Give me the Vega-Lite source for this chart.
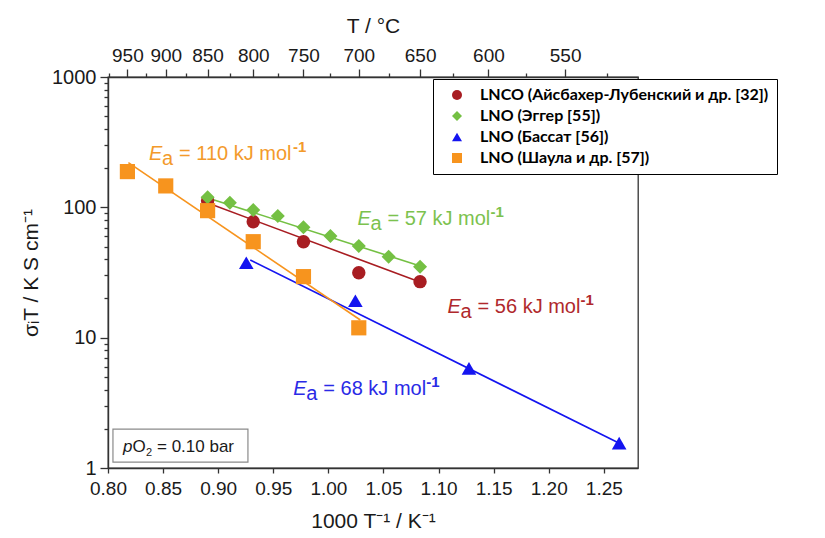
{
  "$schema": "https://vega.github.io/schema/vega-lite/v6.json",
  "autosize": {"type": "none"},
  "width": 530,
  "height": 391,
  "padding": {"left": 108, "top": 77, "right": 187, "bottom": 70},
  "background": "white",
  "config": {
    "view": {"stroke": "#333333", "strokeWidth": 1.3},
    "font": "Liberation Sans",
    "axis": {
      "domainColor": "#333333",
      "domainWidth": 1.4,
      "tickColor": "#333333",
      "tickWidth": 1.3,
      "labelColor": "#1a1a1a",
      "titleColor": "#1a1a1a",
      "labelFont": "Liberation Sans",
      "titleFont": "Liberation Sans",
      "titleFontWeight": "normal",
      "grid": false,
      "labelFlush": false,
      "labelOverlap": false
    },
    "legend": {
      "strokeColor": "black",
      "fillColor": "white",
      "padding": 8,
      "symbolOffset": 8,
      "labelFont": "Lato",
      "labelFontWeight": "bold",
      "labelFontSize": 16,
      "labelColor": "black",
      "labelOffset": 15,
      "labelLimit": 400,
      "rowPadding": 5
    }
  },
  "datasets": {
    "points": [
      {"series": "LNCO (Айсбахер-Лубенский и др. [32])", "x": 0.8904, "y": 112.5},
      {"series": "LNCO (Айсбахер-Лубенский и др. [32])", "x": 0.9318, "y": 77.6},
      {"series": "LNCO (Айсбахер-Лубенский и др. [32])", "x": 0.9774, "y": 54.5},
      {"series": "LNCO (Айсбахер-Лубенский и др. [32])", "x": 1.0276, "y": 31.5},
      {"series": "LNCO (Айсбахер-Лубенский и др. [32])", "x": 1.0832, "y": 26.9},
      {"series": "LNO (Эггер [55])", "x": 0.8904, "y": 119.4},
      {"series": "LNO (Эггер [55])", "x": 0.9106, "y": 108.6},
      {"series": "LNO (Эггер [55])", "x": 0.9318, "y": 95.4},
      {"series": "LNO (Эггер [55])", "x": 0.9541, "y": 85.8},
      {"series": "LNO (Эггер [55])", "x": 0.9774, "y": 70.3},
      {"series": "LNO (Эггер [55])", "x": 1.0019, "y": 60.3},
      {"series": "LNO (Эггер [55])", "x": 1.0276, "y": 50.5},
      {"series": "LNO (Эггер [55])", "x": 1.0547, "y": 41.8},
      {"series": "LNO (Эггер [55])", "x": 1.0832, "y": 35.0},
      {"series": "LNO (Бассат [56])", "x": 0.9255, "y": 37.6},
      {"series": "LNO (Бассат [56])", "x": 1.0245, "y": 19.2},
      {"series": "LNO (Бассат [56])", "x": 1.1276, "y": 5.82},
      {"series": "LNO (Бассат [56])", "x": 1.2639, "y": 1.55},
      {"series": "LNO (Шаула и др. [57])", "x": 0.8176, "y": 188},
      {"series": "LNO (Шаула и др. [57])", "x": 0.8524, "y": 146},
      {"series": "LNO (Шаула и др. [57])", "x": 0.8904, "y": 94.3},
      {"series": "LNO (Шаула и др. [57])", "x": 0.9318, "y": 54.5},
      {"series": "LNO (Шаула и др. [57])", "x": 0.9774, "y": 29.4},
      {"series": "LNO (Шаула и др. [57])", "x": 1.0276, "y": 11.9}
    ],
    "fits": [
      {"series": "LNCO (Айсбахер-Лубенский и др. [32])", "x": 0.8912, "y": 107.4},
      {"series": "LNCO (Айсбахер-Лубенский и др. [32])", "x": 1.0843, "y": 26.5},
      {"series": "LNO (Эггер [55])", "x": 0.8893, "y": 119},
      {"series": "LNO (Эггер [55])", "x": 1.0833, "y": 35.5},
      {"series": "LNO (Бассат [56])", "x": 0.9291, "y": 39.4},
      {"series": "LNO (Бассат [56])", "x": 1.2636, "y": 1.555},
      {"series": "LNO (Шаула и др. [57])", "x": 0.8185, "y": 220},
      {"series": "LNO (Шаула и др. [57])", "x": 1.029, "y": 13.66}
    ],
    "one": [{}]
  },
  "resolve": {
    "axis": {"x": "independent", "y": "independent"},
    "legend": {"color": "independent", "shape": "independent"}
  },
  "layer": [
    {
      "description": "Arrhenius fit lines; this layer also carries the top temperature axis and the left axis",
      "data": {"name": "fits"},
      "mark": {"type": "line", "strokeWidth": 1.6},
      "encoding": {
        "x": {
          "field": "x", "type": "quantitative",
          "scale": {"domain": [0.8, 1.281], "nice": false, "zero": false},
          "axis": {
            "orient": "top",
            "title": "T / °C",
            "titleFontSize": 21,
            "titlePadding": 10,
            "labelFontSize": 19,
            "labelPadding": 4,
            "values": [0.801186, 0.817561, 0.83462, 0.852406, 0.870966, 0.890353, 0.910622, 0.931836, 0.954062, 0.977374, 1.001853, 1.027591, 1.054686, 1.083248, 1.1134, 1.145279, 1.179037, 1.214845, 1.252897],
            "labelExpr": "round(1000 / datum.value - 273.15) % 50 == 0 ? format(round(1000 / datum.value - 273.15), 'd') : ''",
            "tickSize": {"condition": {"test": "round(1000 / datum.value - 273.15) % 50 == 0", "value": 8}, "value": 4}
          }
        },
        "y": {
          "field": "y", "type": "quantitative",
          "scale": {"type": "log", "domain": [1, 1000], "nice": false},
          "axis": {
            "title": "σᵢT / K S cm⁻¹",
            "titleFontSize": 21,
            "titlePadding": 10,
            "labelFontSize": 20,
            "labelPadding": 4,
            "values": [1, 2, 3, 4, 5, 6, 7, 8, 9, 10, 20, 30, 40, 50, 60, 70, 80, 90, 100, 200, 300, 400, 500, 600, 700, 800, 900, 1000],
            "format": "d",
            "labelExpr": "indexof([1, 10, 100, 1000], datum.value) >= 0 ? datum.label : ''",
            "tickSize": {"condition": {"test": "indexof([1, 10, 100, 1000], datum.value) >= 0", "value": 8}, "value": 4}
          }
        },
        "color": {
          "field": "series", "type": "nominal",
          "scale": {
            "domain": ["LNCO (Айсбахер-Лубенский и др. [32])", "LNO (Эггер [55])", "LNO (Бассат [56])", "LNO (Шаула и др. [57])"],
            "range": ["#a81d22", "#74c043", "#1414f0", "#f7941e"]
          },
          "legend": null
        }
      }
    },
    {
      "description": "Measured points; this layer carries the bottom axis and the legend",
      "data": {"name": "points"},
      "mark": {"type": "point", "filled": true, "opacity": 1},
      "encoding": {
        "x": {
          "field": "x", "type": "quantitative",
          "scale": {"domain": [0.8, 1.281], "nice": false, "zero": false},
          "axis": {
            "orient": "bottom",
            "title": "1000 T⁻¹ / K⁻¹",
            "titleFontSize": 21,
            "titlePadding": 12,
            "labelFontSize": 19,
            "labelPadding": 6,
            "tickSize": 5,
            "values": [0.8, 0.85, 0.9, 0.95, 1.0, 1.05, 1.1, 1.15, 1.2, 1.25],
            "format": ".2f"
          }
        },
        "y": {
          "field": "y", "type": "quantitative",
          "scale": {"type": "log", "domain": [1, 1000], "nice": false},
          "axis": null
        },
        "color": {
          "field": "series", "type": "nominal",
          "scale": {
            "domain": ["LNCO (Айсбахер-Лубенский и др. [32])", "LNO (Эггер [55])", "LNO (Бассат [56])", "LNO (Шаула и др. [57])"],
            "range": ["#a81d22", "#74c043", "#1414f0", "#f7941e"]
          },
          "legend": {"title": null, "orient": "none", "legendX": 325, "legendY": 2}
        },
        "shape": {
          "field": "series", "type": "nominal",
          "scale": {
            "domain": ["LNCO (Айсбахер-Лубенский и др. [32])", "LNO (Эггер [55])", "LNO (Бассат [56])", "LNO (Шаула и др. [57])"],
            "range": ["circle", "diamond", "triangle-up", "square"]
          },
          "legend": {"title": null, "orient": "none", "legendX": 325, "legendY": 2}
        },
        "size": {
          "field": "series", "type": "nominal",
          "scale": {
            "domain": ["LNCO (Айсбахер-Лубенский и др. [32])", "LNO (Эггер [55])", "LNO (Бассат [56])", "LNO (Шаула и др. [57])"],
            "range": [180, 230, 280, 170]
          },
          "legend": null
        }
      }
    },
    {
      "description": "Activation energy label, Shaula series",
      "data": {"name": "one"},
      "encoding": {
        "x": {"datum": 0.8373, "type": "quantitative", "scale": {"domain": [0.8, 1.281], "nice": false, "zero": false}, "axis": null},
        "y": {"datum": 231, "type": "quantitative", "scale": {"type": "log", "domain": [1, 1000], "nice": false}, "axis": null}
      },
      "layer": [
        {"mark": {"type": "text", "text": "E", "fontStyle": "italic", "fontSize": 20, "align": "left", "baseline": "alphabetic", "color": "#f39a2b"}},
        {"mark": {"type": "text", "text": "a", "fontSize": 20, "align": "left", "baseline": "alphabetic", "dx": 13, "dy": 5, "color": "#f39a2b"}},
        {"mark": {"type": "text", "text": "= 110 kJ mol", "fontSize": 20, "align": "left", "baseline": "alphabetic", "dx": 30, "color": "#f39a2b"}},
        {"mark": {"type": "text", "text": "-1", "fontSize": 15, "fontWeight": "bold", "align": "left", "baseline": "alphabetic", "dx": 144, "dy": -8, "color": "#f39a2b"}}
      ]
    },
    {
      "description": "Activation energy label, Egger series",
      "data": {"name": "one"},
      "encoding": {
        "x": {"datum": 1.0264, "type": "quantitative", "scale": {"domain": [0.8, 1.281], "nice": false, "zero": false}, "axis": null},
        "y": {"datum": 73.2, "type": "quantitative", "scale": {"type": "log", "domain": [1, 1000], "nice": false}, "axis": null}
      },
      "layer": [
        {"mark": {"type": "text", "text": "E", "fontStyle": "italic", "fontSize": 20, "align": "left", "baseline": "alphabetic", "color": "#7cc24e"}},
        {"mark": {"type": "text", "text": "a", "fontSize": 20, "align": "left", "baseline": "alphabetic", "dx": 13, "dy": 5, "color": "#7cc24e"}},
        {"mark": {"type": "text", "text": "= 57 kJ mol", "fontSize": 20, "align": "left", "baseline": "alphabetic", "dx": 30, "color": "#7cc24e"}},
        {"mark": {"type": "text", "text": "-1", "fontSize": 15, "fontWeight": "bold", "align": "left", "baseline": "alphabetic", "dx": 133, "dy": -8, "color": "#7cc24e"}}
      ]
    },
    {
      "description": "Activation energy label, LNCO series",
      "data": {"name": "one"},
      "encoding": {
        "x": {"datum": 1.1082, "type": "quantitative", "scale": {"domain": [0.8, 1.281], "nice": false, "zero": false}, "axis": null},
        "y": {"datum": 15.5, "type": "quantitative", "scale": {"type": "log", "domain": [1, 1000], "nice": false}, "axis": null}
      },
      "layer": [
        {"mark": {"type": "text", "text": "E", "fontStyle": "italic", "fontSize": 20, "align": "left", "baseline": "alphabetic", "color": "#b0282c"}},
        {"mark": {"type": "text", "text": "a", "fontSize": 20, "align": "left", "baseline": "alphabetic", "dx": 13, "dy": 5, "color": "#b0282c"}},
        {"mark": {"type": "text", "text": "= 56 kJ mol", "fontSize": 20, "align": "left", "baseline": "alphabetic", "dx": 30, "color": "#b0282c"}},
        {"mark": {"type": "text", "text": "-1", "fontSize": 15, "fontWeight": "bold", "align": "left", "baseline": "alphabetic", "dx": 133, "dy": -8, "color": "#b0282c"}}
      ]
    },
    {
      "description": "Activation energy label, Bassat series",
      "data": {"name": "one"},
      "encoding": {
        "x": {"datum": 0.9682, "type": "quantitative", "scale": {"domain": [0.8, 1.281], "nice": false, "zero": false}, "axis": null},
        "y": {"datum": 3.63, "type": "quantitative", "scale": {"type": "log", "domain": [1, 1000], "nice": false}, "axis": null}
      },
      "layer": [
        {"mark": {"type": "text", "text": "E", "fontStyle": "italic", "fontSize": 20, "align": "left", "baseline": "alphabetic", "color": "#2a2ae6"}},
        {"mark": {"type": "text", "text": "a", "fontSize": 20, "align": "left", "baseline": "alphabetic", "dx": 13, "dy": 5, "color": "#2a2ae6"}},
        {"mark": {"type": "text", "text": "= 68 kJ mol", "fontSize": 20, "align": "left", "baseline": "alphabetic", "dx": 30, "color": "#2a2ae6"}},
        {"mark": {"type": "text", "text": "-1", "fontSize": 15, "fontWeight": "bold", "align": "left", "baseline": "alphabetic", "dx": 133, "dy": -8, "color": "#2a2ae6"}}
      ]
    },
    {
      "description": "Oxygen partial pressure note: frame",
      "data": {"name": "one"},
      "mark": {"type": "rect", "fill": "white", "stroke": "#8a8a8a", "strokeWidth": 1.2},
      "encoding": {
        "x": {"datum": 0.8045, "type": "quantitative", "scale": {"domain": [0.8, 1.281], "nice": false, "zero": false}, "axis": null},
        "x2": {"datum": 0.927},
        "y": {"datum": 1.99, "type": "quantitative", "scale": {"type": "log", "domain": [1, 1000], "nice": false}, "axis": null},
        "y2": {"datum": 1.11}
      }
    },
    {
      "description": "Oxygen partial pressure note: text",
      "data": {"name": "one"},
      "encoding": {
        "x": {"datum": 0.8136, "type": "quantitative", "scale": {"domain": [0.8, 1.281], "nice": false, "zero": false}, "axis": null},
        "y": {"datum": 1.33, "type": "quantitative", "scale": {"type": "log", "domain": [1, 1000], "nice": false}, "axis": null}
      },
      "layer": [
        {"mark": {"type": "text", "text": "p", "fontStyle": "italic", "fontSize": 17, "align": "left", "baseline": "alphabetic", "color": "#1a1a1a"}},
        {"mark": {"type": "text", "text": "O", "fontSize": 17, "align": "left", "baseline": "alphabetic", "dx": 9.5, "color": "#1a1a1a"}},
        {"mark": {"type": "text", "text": "2", "fontSize": 11, "align": "left", "baseline": "alphabetic", "dx": 23, "dy": 4, "color": "#1a1a1a"}},
        {"mark": {"type": "text", "text": "= 0.10 bar", "fontSize": 17, "align": "left", "baseline": "alphabetic", "dx": 34, "color": "#1a1a1a"}}
      ]
    }
  ]
}
